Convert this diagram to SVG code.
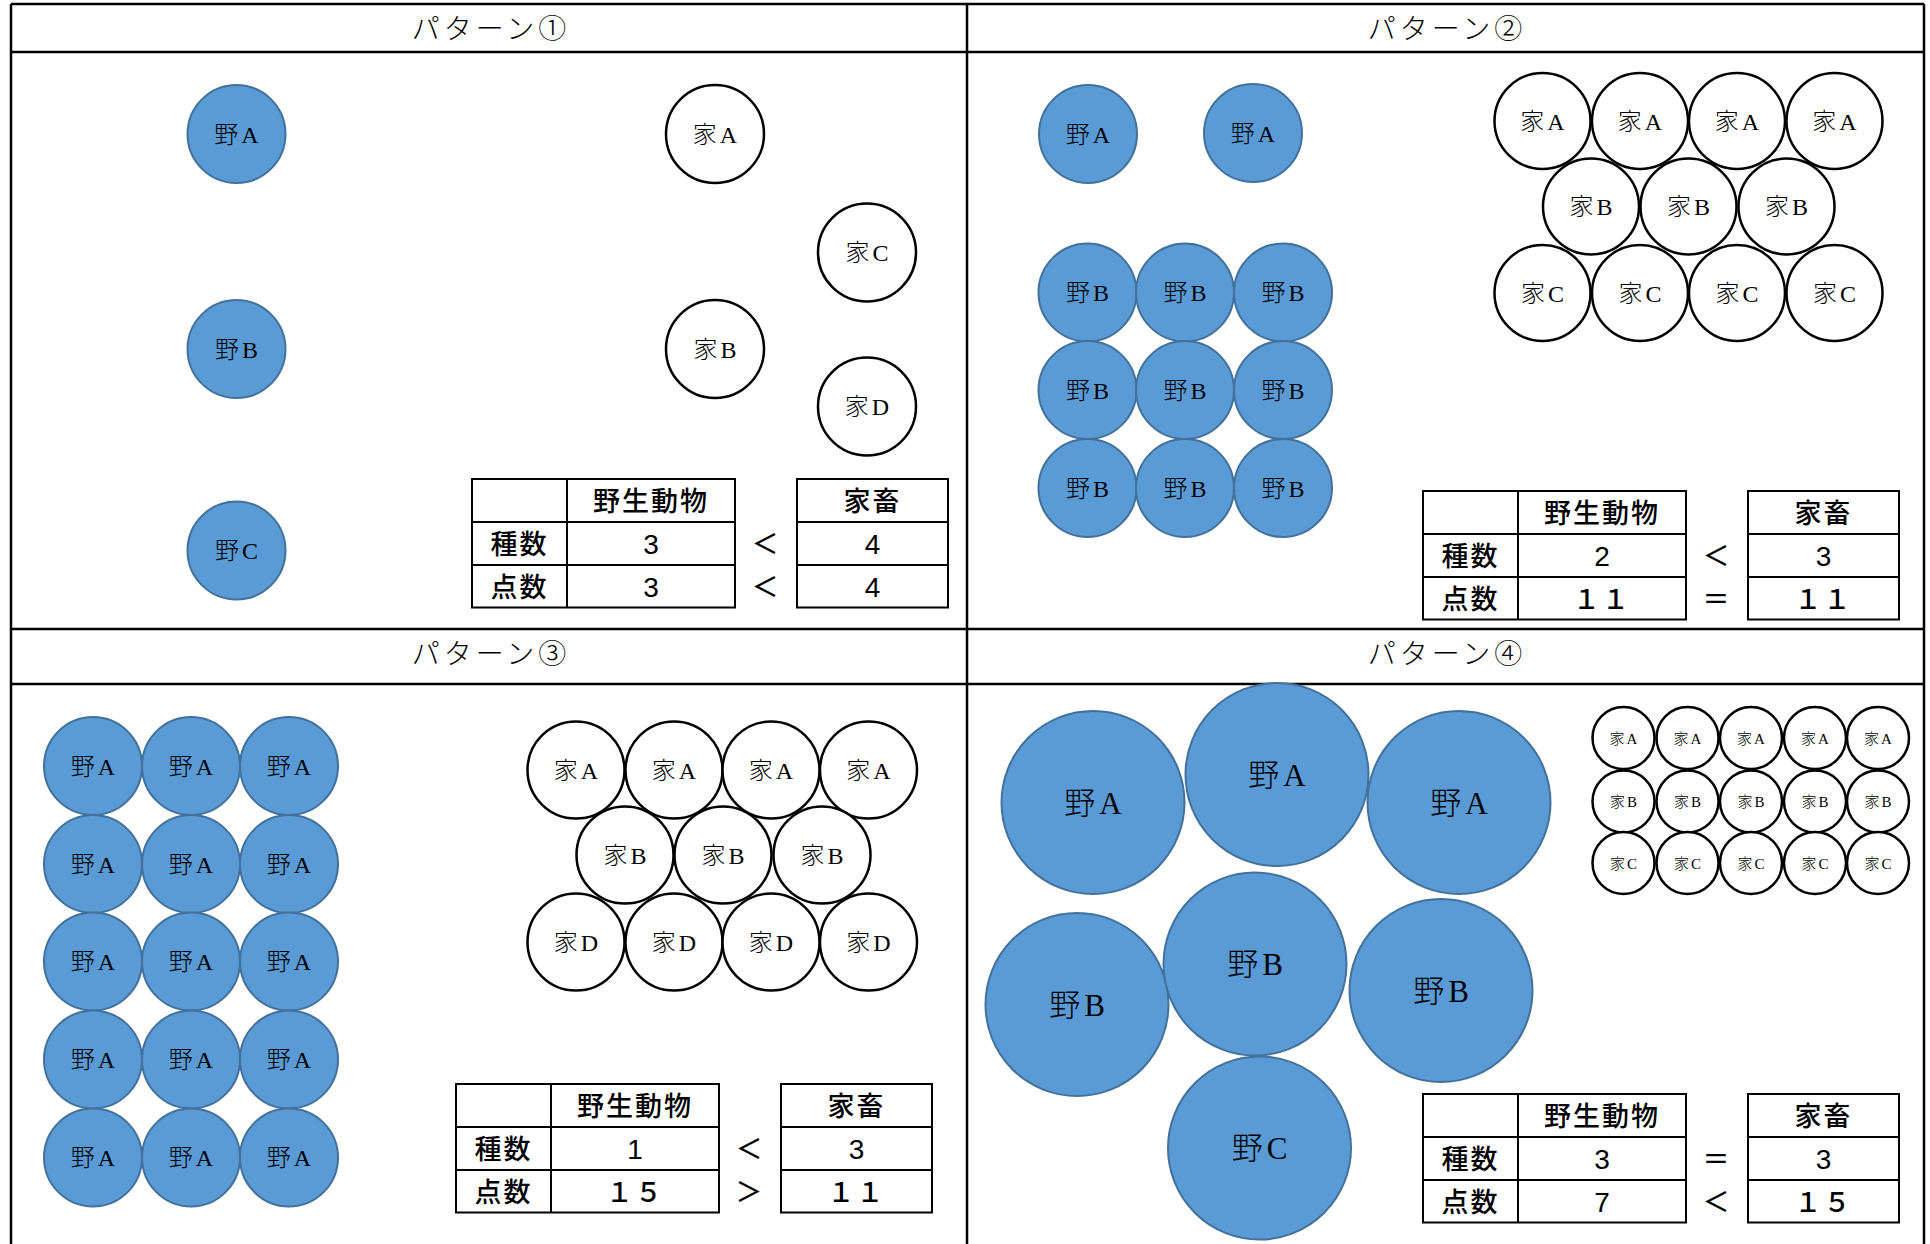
<svg xmlns="http://www.w3.org/2000/svg" xmlns:xlink="http://www.w3.org/1999/xlink" width="1930" height="1244" viewBox="0 0 1930 1244">
<style>
.frame{stroke:#000;stroke-width:2.5;fill:none}
.tbl{stroke:#000;stroke-width:2;fill:none}
.w{fill:#5B9BD5;stroke:#41719C;stroke-width:2}
.d{fill:#fff;stroke:#000;stroke-width:2.5}
.lbl{font-family:"Liberation Serif","Noto Sans CJK JP",serif;font-weight:300;fill:#000;text-anchor:middle}
.s22{font-size:24px}
.s30{font-size:31px}
.s15{font-size:15px}
.hdr{font-family:"Liberation Serif","Noto Sans CJK JP",serif;font-weight:300;font-size:28px;letter-spacing:4px;text-anchor:middle;fill:#000}
.tt{font-family:"Liberation Sans","Noto Sans CJK JP",sans-serif;font-weight:500;font-size:28px;text-anchor:middle;fill:#000}
.tk{font-family:"Noto Sans CJK JP",sans-serif;font-weight:500;font-size:27px;letter-spacing:2px;text-anchor:middle;fill:#000}
</style>
<defs>
<g id="tframe">
<rect class="tbl" x="0" y="0" width="263" height="128.5"/>
<line class="tbl" x1="95" y1="0" x2="95" y2="128.5"/>
<line class="tbl" x1="0" y1="43" x2="263" y2="43"/>
<line class="tbl" x1="0" y1="86" x2="263" y2="86"/>
<rect class="tbl" x="325" y="0" width="151" height="128.5"/>
<line class="tbl" x1="325" y1="43" x2="476" y2="43"/>
<line class="tbl" x1="325" y1="86" x2="476" y2="86"/>
</g>
</defs>
<rect width="1930" height="1244" fill="#fff"/>
<g id="grid">
<line class="frame" x1="11" y1="4" x2="1924" y2="4"/>
<line class="frame" x1="11" y1="52" x2="1924" y2="52"/>
<line class="frame" x1="11" y1="629" x2="1924" y2="629"/>
<line class="frame" x1="11" y1="684" x2="1924" y2="684"/>
<line class="frame" x1="11" y1="4" x2="11" y2="1244"/>
<line class="frame" x1="967" y1="4" x2="967" y2="1244"/>
<line class="frame" x1="1924" y1="4" x2="1924" y2="1244"/>
<text class="hdr" x="491" y="39">パターン①</text>
<text class="hdr" x="1447" y="39">パターン②</text>
<text class="hdr" x="491" y="664">パターン③</text>
<text class="hdr" x="1447" y="664">パターン④</text>
</g>
<g id="connectors"></g>

<!-- Pattern 1 -->
<g id="p1-wA"><circle class="w" cx="236.5" cy="134" r="49"/><text class="lbl s22" x="236.5" y="142.5">野<tspan dx="3">A</tspan></text></g>
<g id="p1-wB"><circle class="w" cx="236.5" cy="349" r="49"/><text class="lbl s22" x="236.5" y="357.5">野<tspan dx="3">B</tspan></text></g>
<g id="p1-wC"><circle class="w" cx="236.5" cy="550.5" r="49"/><text class="lbl s22" x="236.5" y="559">野<tspan dx="3">C</tspan></text></g>
<g id="p1-dA"><circle class="d" cx="715" cy="134" r="49"/><text class="lbl s22" x="715" y="142.5">家<tspan dx="3">A</tspan></text></g>
<g id="p1-dC"><circle class="d" cx="867" cy="252.5" r="49"/><text class="lbl s22" x="867" y="261">家<tspan dx="3">C</tspan></text></g>
<g id="p1-dB"><circle class="d" cx="715" cy="349" r="49"/><text class="lbl s22" x="715" y="357.5">家<tspan dx="3">B</tspan></text></g>
<g id="p1-dD"><circle class="d" cx="867" cy="406.5" r="49"/><text class="lbl s22" x="867" y="415">家<tspan dx="3">D</tspan></text></g>
<g id="p1-table" transform="translate(472,479)">
<use xlink:href="#tframe" href="#tframe"/>
<text class="tk" x="179" y="32">野生動物</text>
<text class="tk" x="400.5" y="32">家畜</text>
<text class="tk" x="47.5" y="75">種数</text>
<text class="tk" x="47.5" y="118">点数</text>
<text class="tt" x="179" y="75">3</text>
<text class="tt" x="179" y="118">3</text>
<text class="tt" x="400.5" y="75">4</text>
<text class="tt" x="400.5" y="118">4</text>
<text class="tk" x="294" y="75">＜</text>
<text class="tk" x="294" y="118">＜</text>
</g>

<!-- Pattern 2 -->
<g id="p2-wA1"><circle class="w" cx="1088" cy="134" r="49"/><text class="lbl s22" x="1088" y="142.5">野<tspan dx="3">A</tspan></text></g>
<g id="p2-wA2"><circle class="w" cx="1253" cy="133" r="49"/><text class="lbl s22" x="1253" y="141.5">野<tspan dx="3">A</tspan></text></g>
<g id="p2-wB1"><circle class="w" cx="1087.5" cy="292.5" r="49"/><text class="lbl s22" x="1087.5" y="301">野<tspan dx="3">B</tspan></text></g>
<g id="p2-wB2"><circle class="w" cx="1185" cy="292.5" r="49"/><text class="lbl s22" x="1185" y="301">野<tspan dx="3">B</tspan></text></g>
<g id="p2-wB3"><circle class="w" cx="1283" cy="292.5" r="49"/><text class="lbl s22" x="1283" y="301">野<tspan dx="3">B</tspan></text></g>
<g id="p2-wB4"><circle class="w" cx="1087.5" cy="390" r="49"/><text class="lbl s22" x="1087.5" y="398.5">野<tspan dx="3">B</tspan></text></g>
<g id="p2-wB5"><circle class="w" cx="1185" cy="390" r="49"/><text class="lbl s22" x="1185" y="398.5">野<tspan dx="3">B</tspan></text></g>
<g id="p2-wB6"><circle class="w" cx="1283" cy="390" r="49"/><text class="lbl s22" x="1283" y="398.5">野<tspan dx="3">B</tspan></text></g>
<g id="p2-wB7"><circle class="w" cx="1087.5" cy="488" r="49"/><text class="lbl s22" x="1087.5" y="496.5">野<tspan dx="3">B</tspan></text></g>
<g id="p2-wB8"><circle class="w" cx="1185" cy="488" r="49"/><text class="lbl s22" x="1185" y="496.5">野<tspan dx="3">B</tspan></text></g>
<g id="p2-wB9"><circle class="w" cx="1283" cy="488" r="49"/><text class="lbl s22" x="1283" y="496.5">野<tspan dx="3">B</tspan></text></g>
<g id="p2-dA1"><circle class="d" cx="1542.5" cy="121" r="48"/><text class="lbl s22" x="1542.5" y="129.5">家<tspan dx="3">A</tspan></text></g>
<g id="p2-dA2"><circle class="d" cx="1640" cy="121" r="48"/><text class="lbl s22" x="1640" y="129.5">家<tspan dx="3">A</tspan></text></g>
<g id="p2-dA3"><circle class="d" cx="1737" cy="121" r="48"/><text class="lbl s22" x="1737" y="129.5">家<tspan dx="3">A</tspan></text></g>
<g id="p2-dA4"><circle class="d" cx="1834.5" cy="121" r="48"/><text class="lbl s22" x="1834.5" y="129.5">家<tspan dx="3">A</tspan></text></g>
<g id="p2-dB1"><circle class="d" cx="1591" cy="206.5" r="48"/><text class="lbl s22" x="1591" y="215">家<tspan dx="3">B</tspan></text></g>
<g id="p2-dB2"><circle class="d" cx="1688.5" cy="206.5" r="48"/><text class="lbl s22" x="1688.5" y="215">家<tspan dx="3">B</tspan></text></g>
<g id="p2-dB3"><circle class="d" cx="1786.5" cy="206.5" r="48"/><text class="lbl s22" x="1786.5" y="215">家<tspan dx="3">B</tspan></text></g>
<g id="p2-dC1"><circle class="d" cx="1542.5" cy="293" r="48"/><text class="lbl s22" x="1542.5" y="301.5">家<tspan dx="3">C</tspan></text></g>
<g id="p2-dC2"><circle class="d" cx="1640" cy="293" r="48"/><text class="lbl s22" x="1640" y="301.5">家<tspan dx="3">C</tspan></text></g>
<g id="p2-dC3"><circle class="d" cx="1737" cy="293" r="48"/><text class="lbl s22" x="1737" y="301.5">家<tspan dx="3">C</tspan></text></g>
<g id="p2-dC4"><circle class="d" cx="1834.5" cy="293" r="48"/><text class="lbl s22" x="1834.5" y="301.5">家<tspan dx="3">C</tspan></text></g>
<g id="p2-table" transform="translate(1423,491)">
<use xlink:href="#tframe" href="#tframe"/>
<text class="tk" x="179" y="32">野生動物</text>
<text class="tk" x="400.5" y="32">家畜</text>
<text class="tk" x="47.5" y="75">種数</text>
<text class="tk" x="47.5" y="118">点数</text>
<text class="tt" x="179" y="75">2</text>
<text class="tk" x="179" y="118">１１</text>
<text class="tt" x="400.5" y="75">3</text>
<text class="tk" x="400.5" y="118">１１</text>
<text class="tk" x="294" y="75">＜</text>
<text class="tk" x="294" y="118">＝</text>
</g>

<!-- Pattern 3 -->
<g id="p3-w01"><circle class="w" cx="93" cy="766" r="49"/><text class="lbl s22" x="93" y="774.5">野<tspan dx="3">A</tspan></text></g>
<g id="p3-w02"><circle class="w" cx="191" cy="766" r="49"/><text class="lbl s22" x="191" y="774.5">野<tspan dx="3">A</tspan></text></g>
<g id="p3-w03"><circle class="w" cx="289" cy="766" r="49"/><text class="lbl s22" x="289" y="774.5">野<tspan dx="3">A</tspan></text></g>
<g id="p3-w04"><circle class="w" cx="93" cy="864" r="49"/><text class="lbl s22" x="93" y="872.5">野<tspan dx="3">A</tspan></text></g>
<g id="p3-w05"><circle class="w" cx="191" cy="864" r="49"/><text class="lbl s22" x="191" y="872.5">野<tspan dx="3">A</tspan></text></g>
<g id="p3-w06"><circle class="w" cx="289" cy="864" r="49"/><text class="lbl s22" x="289" y="872.5">野<tspan dx="3">A</tspan></text></g>
<g id="p3-w07"><circle class="w" cx="93" cy="961.5" r="49"/><text class="lbl s22" x="93" y="970">野<tspan dx="3">A</tspan></text></g>
<g id="p3-w08"><circle class="w" cx="191" cy="961.5" r="49"/><text class="lbl s22" x="191" y="970">野<tspan dx="3">A</tspan></text></g>
<g id="p3-w09"><circle class="w" cx="289" cy="961.5" r="49"/><text class="lbl s22" x="289" y="970">野<tspan dx="3">A</tspan></text></g>
<g id="p3-w10"><circle class="w" cx="93" cy="1059.5" r="49"/><text class="lbl s22" x="93" y="1068">野<tspan dx="3">A</tspan></text></g>
<g id="p3-w11"><circle class="w" cx="191" cy="1059.5" r="49"/><text class="lbl s22" x="191" y="1068">野<tspan dx="3">A</tspan></text></g>
<g id="p3-w12"><circle class="w" cx="289" cy="1059.5" r="49"/><text class="lbl s22" x="289" y="1068">野<tspan dx="3">A</tspan></text></g>
<g id="p3-w13"><circle class="w" cx="93" cy="1157.5" r="49"/><text class="lbl s22" x="93" y="1166">野<tspan dx="3">A</tspan></text></g>
<g id="p3-w14"><circle class="w" cx="191" cy="1157.5" r="49"/><text class="lbl s22" x="191" y="1166">野<tspan dx="3">A</tspan></text></g>
<g id="p3-w15"><circle class="w" cx="289" cy="1157.5" r="49"/><text class="lbl s22" x="289" y="1166">野<tspan dx="3">A</tspan></text></g>
<g id="p3-dA1"><circle class="d" cx="576" cy="770" r="48.5"/><text class="lbl s22" x="576" y="778.5">家<tspan dx="3">A</tspan></text></g>
<g id="p3-dA2"><circle class="d" cx="674" cy="770" r="48.5"/><text class="lbl s22" x="674" y="778.5">家<tspan dx="3">A</tspan></text></g>
<g id="p3-dA3"><circle class="d" cx="771" cy="770" r="48.5"/><text class="lbl s22" x="771" y="778.5">家<tspan dx="3">A</tspan></text></g>
<g id="p3-dA4"><circle class="d" cx="868.5" cy="770" r="48.5"/><text class="lbl s22" x="868.5" y="778.5">家<tspan dx="3">A</tspan></text></g>
<g id="p3-dB1"><circle class="d" cx="625" cy="855" r="48.5"/><text class="lbl s22" x="625" y="863.5">家<tspan dx="3">B</tspan></text></g>
<g id="p3-dB2"><circle class="d" cx="723" cy="855" r="48.5"/><text class="lbl s22" x="723" y="863.5">家<tspan dx="3">B</tspan></text></g>
<g id="p3-dB3"><circle class="d" cx="822" cy="855" r="48.5"/><text class="lbl s22" x="822" y="863.5">家<tspan dx="3">B</tspan></text></g>
<g id="p3-dD1"><circle class="d" cx="576" cy="942" r="48.5"/><text class="lbl s22" x="576" y="950.5">家<tspan dx="3">D</tspan></text></g>
<g id="p3-dD2"><circle class="d" cx="674" cy="942" r="48.5"/><text class="lbl s22" x="674" y="950.5">家<tspan dx="3">D</tspan></text></g>
<g id="p3-dD3"><circle class="d" cx="771" cy="942" r="48.5"/><text class="lbl s22" x="771" y="950.5">家<tspan dx="3">D</tspan></text></g>
<g id="p3-dD4"><circle class="d" cx="868.5" cy="942" r="48.5"/><text class="lbl s22" x="868.5" y="950.5">家<tspan dx="3">D</tspan></text></g>
<g id="p3-table" transform="translate(456,1084)">
<use xlink:href="#tframe" href="#tframe"/>
<text class="tk" x="179" y="32">野生動物</text>
<text class="tk" x="400.5" y="32">家畜</text>
<text class="tk" x="47.5" y="75">種数</text>
<text class="tk" x="47.5" y="118">点数</text>
<text class="tt" x="179" y="75">1</text>
<text class="tk" x="179" y="118">１５</text>
<text class="tt" x="400.5" y="75">3</text>
<text class="tk" x="400.5" y="118">１１</text>
<text class="tk" x="294" y="75">＜</text>
<text class="tk" x="294" y="118">＞</text>
</g>

<!-- Pattern 4 -->
<g id="p4-wA1"><circle class="w" cx="1093" cy="802.5" r="91.5"/><text class="lbl s30" x="1093" y="813.5">野<tspan dx="4">A</tspan></text></g>
<g id="p4-wA2"><circle class="w" cx="1277" cy="774.5" r="91.5"/><text class="lbl s30" x="1277" y="785.5">野<tspan dx="4">A</tspan></text></g>
<g id="p4-wA3"><circle class="w" cx="1459" cy="802.5" r="91.5"/><text class="lbl s30" x="1459" y="813.5">野<tspan dx="4">A</tspan></text></g>
<g id="p4-wB1"><circle class="w" cx="1077" cy="1004.5" r="91.5"/><text class="lbl s30" x="1077" y="1015.5">野<tspan dx="4">B</tspan></text></g>
<g id="p4-wB2"><circle class="w" cx="1255" cy="964" r="91.5"/><text class="lbl s30" x="1255" y="975">野<tspan dx="4">B</tspan></text></g>
<g id="p4-wB3"><circle class="w" cx="1441" cy="990.5" r="91.5"/><text class="lbl s30" x="1441" y="1001.5">野<tspan dx="4">B</tspan></text></g>
<g id="p4-wC"><circle class="w" cx="1259.5" cy="1148" r="91.5"/><text class="lbl s30" x="1259.5" y="1159">野<tspan dx="4">C</tspan></text></g>
<g id="p4-dA1"><circle class="d" cx="1623.5" cy="738" r="31"/><text class="lbl s15" x="1623.5" y="743.5">家<tspan dx="2">A</tspan></text></g>
<g id="p4-dA2"><circle class="d" cx="1687.5" cy="738" r="31"/><text class="lbl s15" x="1687.5" y="743.5">家<tspan dx="2">A</tspan></text></g>
<g id="p4-dA3"><circle class="d" cx="1751" cy="738" r="31"/><text class="lbl s15" x="1751" y="743.5">家<tspan dx="2">A</tspan></text></g>
<g id="p4-dA4"><circle class="d" cx="1815" cy="738" r="31"/><text class="lbl s15" x="1815" y="743.5">家<tspan dx="2">A</tspan></text></g>
<g id="p4-dA5"><circle class="d" cx="1878" cy="738" r="31"/><text class="lbl s15" x="1878" y="743.5">家<tspan dx="2">A</tspan></text></g>
<g id="p4-dB1"><circle class="d" cx="1623.5" cy="801.5" r="31"/><text class="lbl s15" x="1623.5" y="807">家<tspan dx="2">B</tspan></text></g>
<g id="p4-dB2"><circle class="d" cx="1687.5" cy="801.5" r="31"/><text class="lbl s15" x="1687.5" y="807">家<tspan dx="2">B</tspan></text></g>
<g id="p4-dB3"><circle class="d" cx="1751" cy="801.5" r="31"/><text class="lbl s15" x="1751" y="807">家<tspan dx="2">B</tspan></text></g>
<g id="p4-dB4"><circle class="d" cx="1815" cy="801.5" r="31"/><text class="lbl s15" x="1815" y="807">家<tspan dx="2">B</tspan></text></g>
<g id="p4-dB5"><circle class="d" cx="1878" cy="801.5" r="31"/><text class="lbl s15" x="1878" y="807">家<tspan dx="2">B</tspan></text></g>
<g id="p4-dC1"><circle class="d" cx="1623.5" cy="863" r="31"/><text class="lbl s15" x="1623.5" y="868.5">家<tspan dx="2">C</tspan></text></g>
<g id="p4-dC2"><circle class="d" cx="1687.5" cy="863" r="31"/><text class="lbl s15" x="1687.5" y="868.5">家<tspan dx="2">C</tspan></text></g>
<g id="p4-dC3"><circle class="d" cx="1751" cy="863" r="31"/><text class="lbl s15" x="1751" y="868.5">家<tspan dx="2">C</tspan></text></g>
<g id="p4-dC4"><circle class="d" cx="1815" cy="863" r="31"/><text class="lbl s15" x="1815" y="868.5">家<tspan dx="2">C</tspan></text></g>
<g id="p4-dC5"><circle class="d" cx="1878" cy="863" r="31"/><text class="lbl s15" x="1878" y="868.5">家<tspan dx="2">C</tspan></text></g>
<g id="p4-table" transform="translate(1423,1094)">
<use xlink:href="#tframe" href="#tframe"/>
<text class="tk" x="179" y="32">野生動物</text>
<text class="tk" x="400.5" y="32">家畜</text>
<text class="tk" x="47.5" y="75">種数</text>
<text class="tk" x="47.5" y="118">点数</text>
<text class="tt" x="179" y="75">3</text>
<text class="tt" x="179" y="118">7</text>
<text class="tt" x="400.5" y="75">3</text>
<text class="tk" x="400.5" y="118">１５</text>
<text class="tk" x="294" y="75">＝</text>
<text class="tk" x="294" y="118">＜</text>
</g>
</svg>
